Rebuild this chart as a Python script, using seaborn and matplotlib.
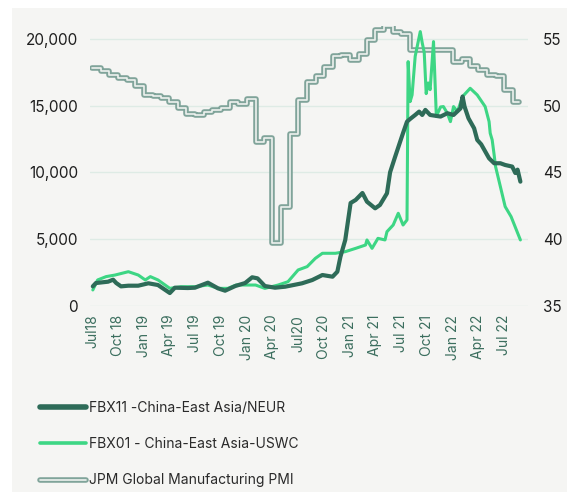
import numpy as np
import pandas as pd
import matplotlib
matplotlib.use('Agg')
import matplotlib.pyplot as plt
import seaborn as sns
import matplotlib.patheffects as pe
from matplotlib.lines import Line2D
from matplotlib.patches import Rectangle
from matplotlib.ticker import FuncFormatter

sns.set_theme(style='white')
plt.rcParams['font.family'] = ['Inter', 'DejaVu Sans']

# ---------------- data ----------------
fbx11_dates = ['2018-07-04', '2018-07-15', '2018-08-27', '2018-09-14', '2018-09-25', '2018-10-12',
               '2018-11-07', '2018-12-12', '2019-01-17', '2019-02-20', '2019-04-03', '2019-04-21',
               '2019-06-06', '2019-07-01', '2019-08-16', '2019-09-21', '2019-10-16', '2019-11-21',
               '2019-12-26', '2020-01-20', '2020-02-08', '2020-03-05', '2020-04-10', '2020-05-16',
               '2020-07-15', '2020-08-20', '2020-09-25', '2020-10-31', '2020-11-17', '2020-11-28',
               '2020-12-15', '2021-01-03', '2021-01-21', '2021-02-14', '2021-03-02', '2021-03-31',
               '2021-04-17', '2021-05-12', '2021-05-23', '2021-06-10', '2021-07-08', '2021-07-22',
               '2021-08-02', '2021-08-20', '2021-09-03', '2021-09-14', '2021-09-25', '2021-10-12',
               '2021-11-18', '2021-12-12', '2022-01-03', '2022-01-28', '2022-02-04', '2022-02-11',
               '2022-02-25', '2022-03-17', '2022-03-28', '2022-04-11', '2022-05-09', '2022-05-27',
               '2022-06-18', '2022-07-05', '2022-07-30', '2022-08-10', '2022-08-18', '2022-08-28']
fbx11_values = [1450, 1700, 1800, 1950, 1700, 1450,
                1500, 1500, 1680, 1550, 950, 1350,
                1325, 1350, 1725, 1300, 1125, 1475,
                1700, 2130, 2050, 1475, 1350, 1425,
                1680, 1925, 2300, 2175, 2550, 3675,
                4925, 7700, 7930, 8450, 7800, 7300,
                7550, 8430, 10000, 11175, 12950, 13800,
                14000, 14300, 14550, 14300, 14680, 14300,
                14180, 14430, 14300, 14800, 15680, 14930,
                14050, 13300, 12430, 12100, 11050, 10680,
                10680, 10550, 10430, 9950, 10200, 9300]

fbx01_dates = ['2018-07-04', '2018-07-21', '2018-08-20', '2018-09-21', '2018-11-07', '2018-12-12',
               '2019-01-06', '2019-01-24', '2019-02-20', '2019-04-03', '2019-05-12', '2019-07-01',
               '2019-08-16', '2019-09-21', '2019-10-26', '2019-11-24', '2019-12-26', '2020-02-01',
               '2020-03-05', '2020-04-21', '2020-05-26', '2020-07-01', '2020-08-02', '2020-08-31',
               '2020-09-25', '2020-11-10', '2020-12-15', '2021-01-21', '2021-02-25', '2021-03-02',
               '2021-03-20', '2021-04-10', '2021-05-05', '2021-05-12', '2021-06-03', '2021-06-21',
               '2021-07-08', '2021-07-22', '2021-07-26', '2021-08-02', '2021-08-09', '2021-08-20',
               '2021-09-07', '2021-09-14', '2021-09-21', '2021-09-28', '2021-10-05', '2021-10-12',
               '2021-10-24', '2021-11-03', '2021-11-18', '2021-11-28', '2021-12-12', '2021-12-23',
               '2022-01-03', '2022-01-17', '2022-02-04', '2022-03-03', '2022-03-28', '2022-04-25',
               '2022-05-09', '2022-05-13', '2022-05-20', '2022-05-27', '2022-06-01', '2022-06-18',
               '2022-07-05', '2022-07-26', '2022-08-28']
fbx01_values = [1180, 1930, 2180, 2300, 2550, 2300,
                1930, 2180, 1930, 1300, 1425, 1425,
                1550, 1300, 1300, 1550, 1550, 1550,
                1300, 1550, 1800, 2680, 2930, 3550,
                3930, 3930, 4050, 4300, 4550, 4930,
                4300, 5050, 4930, 5550, 6050, 6930,
                6050, 6430, 18300, 15300, 15800, 18700,
                20550, 19700, 19000, 15900, 16700, 16200,
                19800, 14200, 14900, 14930, 14430, 13800,
                14930, 14550, 15680, 16300, 15800, 14930,
                13800, 12930, 12430, 11300, 10430, 8930,
                7430, 6680, 4930]

pmi_months = pd.date_range('2018-07-01', '2022-08-01', freq='MS')
pmi_values = [52.8, 52.6, 52.3, 52.1, 51.9, 51.5,
              50.8, 50.7, 50.6, 50.3, 49.8, 49.4, 49.3, 49.5, 49.7, 49.8, 50.3, 50.1,
              50.5, 47.3, 47.6, 39.7, 42.4, 47.9, 50.4, 51.8, 52.2, 52.9, 53.7, 53.8,
              53.4, 53.9, 54.9, 55.7, 56.0, 55.5, 55.4, 54.2, 54.2, 54.2, 54.2, 54.2,
              53.3, 53.5, 53.0, 52.7, 52.3, 52.2, 51.2, 50.3]
pmi_end = '2022-08-22'

tick_dates = pd.date_range('2018-07-01', '2022-07-01', freq='QS-JAN')
tick_labels = ['Jul18', 'Oct 18', 'Jan 19', 'Apr 19', 'Jul 19', 'Oct 19', 'Jan 20', 'Apr 20',
               'Jul20', 'Oct 20', 'Jan 21', 'Apr 21', 'Jul 21', 'Oct 21', 'Jan 22', 'Apr 22', 'Jul 22']
left_ticks = [0, 5000, 10000, 15000, 20000]
right_ticks = [35, 40, 45, 50, 55]

labels = ['FBX11 -China-East Asia/NEUR', 'FBX01 - China-East Asia-USWC', 'JPM Global Manufacturing PMI']

# ---------------- styling ----------------
C_DARK = '#2e6b58'
C_LIGHT = '#3dd684'
C_PMI_EDGE = '#80a49a'
C_PMI_FILL = '#eef2ef'
BG = '#f5f5f3'

W, H = 567, 492
fig = plt.figure(figsize=(W / 100, H / 100), dpi=100, facecolor='white')
fig.patches.append(Rectangle((12 / W, 0), 1 - 12 / W, 1 - 8 / H, transform=fig.transFigure,
                             facecolor=BG, edgecolor='none', zorder=-10))

ax = fig.add_axes([90 / W, 1 - 305.7 / H, (528 - 90) / W, (305.7 - 25.6) / H])
ax2 = ax.twinx()
ax.set_zorder(ax2.get_zorder() + 1)
ax.patch.set_visible(False)
ax2.patch.set_visible(False)

pmi_df = pd.DataFrame({'date': list(pmi_months) + [pd.Timestamp(pmi_end)],
                       'pmi': pmi_values + [pmi_values[-1]]})
pmi_fx = [pe.Stroke(linewidth=4.0, foreground=C_PMI_EDGE), pe.Normal()]
sns.lineplot(data=pmi_df, x='date', y='pmi', ax=ax2, color=C_PMI_FILL, lw=1.2,
             drawstyle='steps-post', path_effects=pmi_fx)

d01 = pd.DataFrame({'date': pd.to_datetime(fbx01_dates), 'v': fbx01_values})
d11 = pd.DataFrame({'date': pd.to_datetime(fbx11_dates), 'v': fbx11_values})
sns.lineplot(data=d01, x='date', y='v', ax=ax, color=C_LIGHT, lw=2.2, solid_joinstyle='round')
sns.lineplot(data=d11, x='date', y='v', ax=ax, color=C_DARK, lw=3.0, solid_joinstyle='round')

ax.set_xlim(pd.Timestamp('2018-06-24'), pd.Timestamp('2022-09-24'))
ax.set_ylim(0, 21000)
ax2.set_ylim(35, 56)
ax.set_yticks(left_ticks)
ax.yaxis.set_major_formatter(FuncFormatter(lambda v, p: f'{v:,.0f}'))
ax2.set_yticks(right_ticks)
ax.set_xticks(tick_dates)
ax.set_xticklabels(tick_labels)

ax.grid(False)
ax2.grid(False)
ax2.yaxis.grid(True, color='#deebe5', lw=1.0)
ax2.set_axisbelow(True)

for a in (ax, ax2):
    for s in a.spines.values():
        s.set_visible(False)
    a.set_xlabel('')
    a.set_ylabel('')

ax.tick_params(axis='x', rotation=90, labelsize=10, labelcolor='#3b6e5e', length=0, pad=6.5)
ax.tick_params(axis='y', labelsize=11, labelcolor='#1f1f1f', length=0, pad=8.6)
ax2.tick_params(axis='y', labelsize=11, labelcolor='#1f1f1f', length=0, pad=10.8)

handles = [Line2D([], [], color=C_DARK, lw=4.0, solid_capstyle='round'),
           Line2D([], [], color=C_LIGHT, lw=2.6, solid_capstyle='round'),
           Line2D([], [], color=C_PMI_FILL, lw=1.2, path_effects=pmi_fx)]
fig.legend(handles, labels, loc='upper left', bbox_to_anchor=(40 / W, 1 - 401 / H),
           frameon=False, fontsize=10, handlelength=3.3, handletextpad=0.25,
           labelspacing=1.6, borderaxespad=0, borderpad=0, labelcolor='#2a2a2a')

fig.savefig('out.png', dpi=100, facecolor='white')
